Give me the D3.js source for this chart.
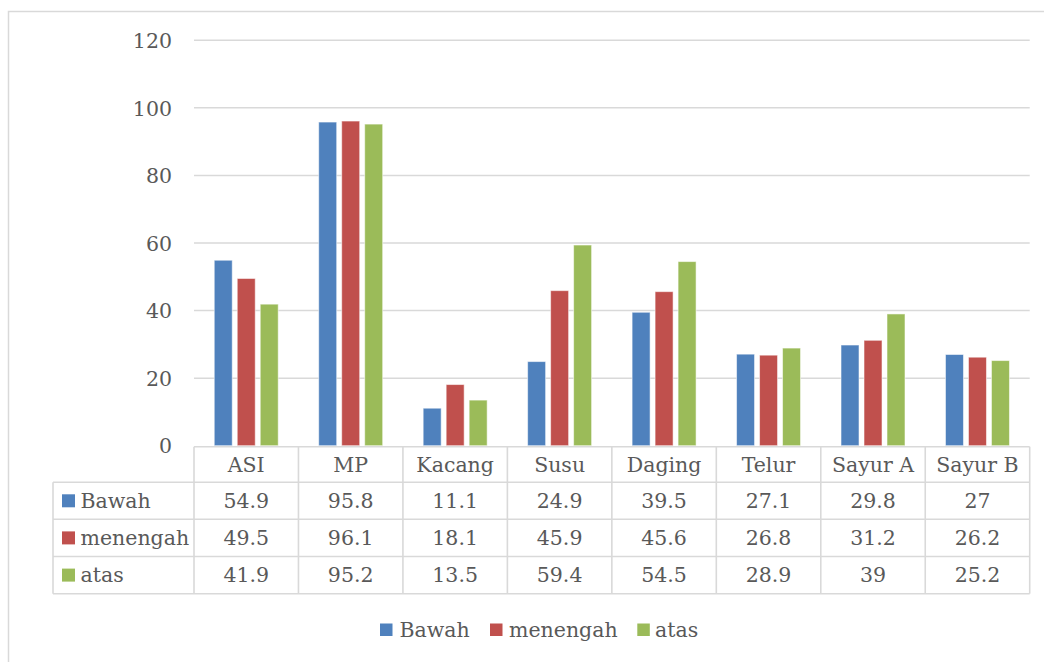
<!DOCTYPE html>
<html>
<head>
<meta charset="utf-8">
<script src="https://cdn.jsdelivr.net/npm/d3@7"></script>
<style>
  html, body { margin: 0; padding: 0; background: #fff; }
  svg text { font-family: "DejaVu Serif", "Liberation Serif", serif; fill: #595959; }
</style>
</head>
<body>
<svg id="chart" width="1044" height="662"></svg>
<script>
// Food groups on the category axis
const categories = ["ASI", "MP", "Kacang", "Susu", "Daging", "Telur", "Sayur A", "Sayur B"];
// Series (socio-economic level)
const seriesNames = ["Bawah", "menengah", "atas"];
const bawah    = [54.9, 95.8, 11.1, 24.9, 39.5, 27.1, 29.8, 27];
const menengah = [49.5, 96.1, 18.1, 45.9, 45.6, 26.8, 31.2, 26.2];
const atas     = [41.9, 95.2, 13.5, 59.4, 54.5, 28.9, 39, 25.2];
const yTicks   = [0, 20, 40, 60, 80, 100, 120];

const seriesValues = [bawah, menengah, atas];
const colors = ["#4f81bd", "#c0504d", "#9bbb59"];
const grid = "#d9d9d9";
const fontSize = 20.5;

const svg = d3.select("#chart");

// chart-area frame
svg.append("rect")
  .attr("x", 8.5).attr("y", 11.5)
  .attr("width", 1100).attr("height", 700)
  .attr("fill", "#fff").attr("stroke", grid).attr("stroke-width", 1.5);

const plotLeft = 194, plotRight = 1029.7;
const plotTop = 40.3, plotBottom = 445.7;

const x = d3.scaleBand().domain(categories).range([plotLeft, plotRight]).padding(0);
const xs = d3.scaleBand().domain(seriesNames).range([0, x.bandwidth()])
  .paddingInner(0.217).paddingOuter(0.88);
const y = d3.scaleLinear().domain([0, 120]).range([plotBottom, plotTop]);

// horizontal gridlines
svg.append("g").selectAll("line").data(yTicks.filter(t => t > 0)).join("line")
  .attr("x1", plotLeft).attr("x2", plotRight)
  .attr("y1", d => y(d)).attr("y2", d => y(d))
  .attr("stroke", grid).attr("stroke-width", 1.5);

// y axis labels
const yAxis = d3.axisLeft(y).tickValues(yTicks).tickSize(0).tickPadding(0);
const yg = svg.append("g").attr("transform", `translate(172,0)`).call(yAxis);
yg.select(".domain").remove();
yg.selectAll("text")
  .attr("font-size", fontSize)
  .attr("font-family", null)
  .attr("fill", null)
  .attr("dy", "0.35em")
  .attr("x", 0);

// bars
const groups = svg.append("g").selectAll("g").data(seriesNames).join("g")
  .attr("fill", (d, i) => colors[i]);
groups.selectAll("rect")
  .data((s, si) => categories.map((c, ci) => ({ s, c, v: seriesValues[si][ci] })))
  .join("rect")
  .attr("x", d => x(d.c) + xs(d.s))
  .attr("width", xs.bandwidth())
  .attr("y", d => y(d.v))
  .attr("height", d => y(0) - y(d.v))
  .attr("stroke", "#ffffff").attr("stroke-opacity", 0.55).attr("stroke-width", 1);

// data table under the plot
const tableLeft = 53;
const rowTop = [446.7, 482.3, 519.3, 556.5];
const rowBottom = 593.7;
const rowEdges = rowTop.concat([rowBottom]);
const tbl = svg.append("g");

// horizontal rules
rowEdges.forEach((ry, i) => {
  tbl.append("line")
    .attr("x1", i === 0 ? plotLeft : tableLeft).attr("x2", plotRight)
    .attr("y1", ry).attr("y2", ry)
    .attr("stroke", grid).attr("stroke-width", 1.6);
});
// vertical rules
const colEdges = categories.map(c => x(c)).concat([plotRight]);
colEdges.forEach(cx => {
  tbl.append("line")
    .attr("x1", cx).attr("x2", cx)
    .attr("y1", rowTop[0]).attr("y2", rowBottom)
    .attr("stroke", grid).attr("stroke-width", 1.6);
});
tbl.append("line")
  .attr("x1", tableLeft).attr("x2", tableLeft)
  .attr("y1", rowTop[1]).attr("y2", rowBottom)
  .attr("stroke", grid).attr("stroke-width", 1.6);

// header row: category names
tbl.selectAll("text.cat").data(categories).join("text")
  .attr("class", "cat")
  .attr("x", d => x(d) + x.bandwidth() / 2)
  .attr("y", (rowTop[0] + rowTop[1]) / 2)
  .attr("dy", "0.35em")
  .attr("text-anchor", "middle")
  .attr("font-size", fontSize)
  .text(d => d);

// value rows with legend keys
seriesNames.forEach((s, si) => {
  const cy = (rowEdges[si + 1] + rowEdges[si + 2]) / 2;
  tbl.append("rect")
    .attr("x", 62).attr("y", cy - 6.5).attr("width", 13).attr("height", 13)
    .attr("fill", colors[si]);
  tbl.append("text")
    .attr("x", 80.5).attr("y", cy).attr("dy", "0.35em")
    .attr("font-size", fontSize).text(s);
  tbl.selectAll(null).data(categories).join("text")
    .attr("x", d => x(d) + x.bandwidth() / 2)
    .attr("y", cy).attr("dy", "0.35em")
    .attr("text-anchor", "middle")
    .attr("font-size", fontSize)
    .text((d, ci) => String(seriesValues[si][ci]));
});

// legend
const legendItems = [
  { name: seriesNames[0], key: 380, text: 399.5 },
  { name: seriesNames[1], key: 490, text: 509 },
  { name: seriesNames[2], key: 637.3, text: 655 }
];
const lg = svg.append("g");
legendItems.forEach((d, i) => {
  lg.append("rect")
    .attr("x", d.key).attr("y", 623.5).attr("width", 12.5).attr("height", 12.5)
    .attr("fill", colors[i]);
  lg.append("text")
    .attr("x", d.text).attr("y", 629.7).attr("dy", "0.35em")
    .attr("font-size", fontSize).text(d.name);
});
</script>
</body>
</html>
